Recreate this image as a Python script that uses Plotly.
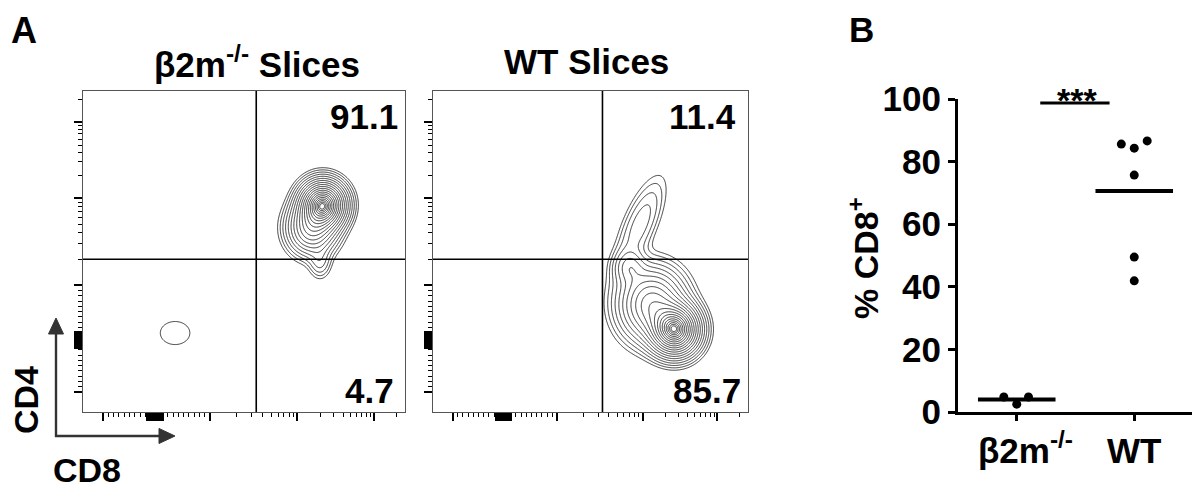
import numpy as np
import plotly.graph_objects as go

# the page body keeps its 8 px default margin, so the figure is laid out
# in target-window pixels shifted by OFF
OFF = 8
W, H = 1200 - OFF, 492 - OFF
FONT = "Arial, Liberation Sans, sans-serif"
LINE_GREY = "#262626"
ARROW_GREY = "#333333"

# ---- panel B: % CD8+ per slice ----
GROUPS = ["<b>\u2002β2m<sup>-/-</sup></b>", "<b>WT</b>"]
KO_VALUES = [4.8, 2.5, 4.8]
WT_VALUES = [85.6, 84.3, 86.6, 75.7, 49.5, 41.9]
KO_JITTER = [-0.11, 0.0, 0.10]
WT_JITTER = [-0.11, 0.0, 0.11, 0.0, 0.0, 0.0]
Y_TICKS = [0, 20, 40, 60, 80, 100]

# ---- panel A: quadrant frequencies ----
KO_QUADS = ["91.1", "4.7"]     # CD4+CD8+, CD8 single positive
WT_QUADS = ["11.4", "85.7"]

# populations (display units 0-1)
KO_CX = [0.745, 0.711, 0.736, 0.286]
KO_CY = [0.645, 0.573, 0.467, 0.246]
KO_SU = [0.037, 0.041, 0.020, 0.060]
KO_SV = [0.039, 0.045, 0.030, 0.047]
KO_ANG = [0, 0, 0, 0]
KO_W = [1.0, 0.35, 0.05, 0.016]

WT_CX = [0.768, 0.695, 0.625, 0.657]
WT_CY = [0.256, 0.334, 0.450, 0.584]
WT_SU = [0.041, 0.057, 0.029, 0.090]
WT_SV = [0.042, 0.0625, 0.031, 0.030]
WT_ANG = [0, 0, 0, 66.5]
WT_W = [1.0, 0.4, 0.1, 0.065]

GATE_X, GATE_Y = 0.538, 0.476
N_LEVELS, Q, OUTER, INNER = 20, 0.4, 4.5, 0.02


def px(x):
    return (x - OFF) / W


def py(y):
    return 1 - (y - OFF) / H


grid = np.linspace(0, 1, 401)
GX, GY = np.meshgrid(grid, grid)


def density(cx, cy, su, sv, ang, w):
    d = np.zeros_like(GX)
    for x0, y0, s1, s2, a, wi in zip(cx, cy, su, sv, ang, w):
        t = np.radians(a)
        dx, dy = GX - x0, GY - y0
        u = dx * np.cos(t) + dy * np.sin(t)
        v = -dx * np.sin(t) + dy * np.cos(t)
        d += wi * np.exp(-0.5 * ((u / s1) ** 2 + (v / s2) ** 2))
    rel = np.maximum(d / d.max(), 1e-30)
    return -(-np.log(rel)) ** Q


start = -(OUTER ** Q)
step = (OUTER ** Q - INNER ** Q) / (N_LEVELS - 1)

# biexponential-looking tick marks
major_ticks = [0.062, 0.395, 0.666, 0.903] + [0.200 + 0.004 * i for i in range(13)]
minor_ticks = ([0.062 + 0.0165 * i for i in range(1, 9)]
               + [0.395 - 0.0165 * i for i in range(1, 9)]
               + [0.395 + np.log10(k) * 0.271 for k in range(2, 10)]
               + [0.666 + np.log10(k) * 0.237 for k in range(2, 10)]
               + [0.974])

fig = go.Figure()

for n, comps in enumerate([
    (KO_CX, KO_CY, KO_SU, KO_SV, KO_ANG, KO_W),
    (WT_CX, WT_CY, WT_SU, WT_SV, WT_ANG, WT_W),
]):
    ax = "" if n == 0 else "2"
    fig.add_trace(go.Contour(
        x=grid, y=grid, z=density(*comps),
        autocontour=False,
        contours=dict(start=start, end=start + step * (N_LEVELS - 1), size=step,
                      coloring="lines"),
        line=dict(width=0.9, smoothing=1),
        colorscale=[[0, LINE_GREY], [1, LINE_GREY]],
        showscale=False, hoverinfo="skip",
        xaxis="x" + ax, yaxis="y" + ax,
    ))

for vals, jit, i in [(KO_VALUES, KO_JITTER, 0), (WT_VALUES, WT_JITTER, 1)]:
    fig.add_trace(go.Scatter(
        x=[i + j for j in jit], y=vals, mode="markers",
        marker=dict(size=9, color="black"),
        cliponaxis=False, showlegend=False,
        xaxis="x3", yaxis="y3",
    ))
    m = float(np.mean(vals))
    fig.add_trace(go.Scatter(
        x=[i - 0.33, i + 0.33], y=[m, m], mode="lines",
        line=dict(color="black", width=4),
        cliponaxis=False, showlegend=False,
        xaxis="x3", yaxis="y3",
    ))

flow_axis = dict(
    range=[0, 1], showgrid=False, zeroline=False, showticklabels=False,
    showline=True, mirror=True, linecolor="#555555", linewidth=1,
    ticks="outside", tickmode="array", tickvals=major_ticks,
    ticklen=8, tickwidth=2, tickcolor="black",
    minor=dict(tickmode="array", tickvals=minor_ticks, ticks="outside",
               ticklen=4, tickwidth=1, tickcolor="black"),
    fixedrange=True, automargin=False,
)
y_dom = [py(412), py(91)]

fig.update_layout(
    width=W, height=H, autosize=False,
    margin=dict(l=0, r=0, t=0, b=0, pad=0),
    paper_bgcolor="white", plot_bgcolor="white",
    showlegend=False,
    font=dict(family=FONT, color="black"),
    xaxis=dict(flow_axis, domain=[px(83), px(405)], anchor="y"),
    yaxis=dict(flow_axis, domain=y_dom, anchor="x"),
    xaxis2=dict(flow_axis, domain=[px(433), px(748)], anchor="y2"),
    yaxis2=dict(flow_axis, domain=y_dom, anchor="x2"),
    xaxis3=dict(
        domain=[px(958), px(1193)], range=[-0.5, 1.5], anchor="y3",
        tickmode="array", tickvals=[0, 1], ticktext=GROUPS,
        ticks="outside", ticklen=6, tickwidth=3, tickcolor="black",
        showline=True, linewidth=3, linecolor="black",
        showgrid=False, zeroline=False, automargin=False,
        tickfont=dict(family=FONT, size=35, color="black"),
    ),
    yaxis3=dict(
        domain=[py(412), py(99)], range=[0, 100], anchor="x3",
        tickmode="array", tickvals=Y_TICKS,
        ticks="outside", ticklen=7, tickwidth=3, tickcolor="black",
        showline=True, linewidth=3, linecolor="black",
        showgrid=False, zeroline=False, automargin=False,
        tickfont=dict(family=FONT, size=35, color="black", weight="bold"),
    ),
)

# quadrant gates
for ax in ["", "2"]:
    fig.add_shape(type="line", x0=GATE_X, x1=GATE_X, y0=0, y1=1,
                  xref="x" + ax, yref="y" + ax, line=dict(color="black", width=1.6))
    fig.add_shape(type="line", x0=0, x1=1, y0=GATE_Y, y1=GATE_Y,
                  xref="x" + ax, yref="y" + ax, line=dict(color="black", width=1.6))

# significance bar
fig.add_shape(type="line", x0=0.2, x1=0.79, y0=98.7, y1=98.7,
              xref="x3", yref="y3", line=dict(color="black", width=3))

# CD4 / CD8 orientation arrows (corner at 56, 436)
for x0, y0, x1, y1 in [(56, 437, 56, 330), (55, 436, 161, 436)]:
    fig.add_shape(type="line", x0=px(x0), y0=py(y0), x1=px(x1), y1=py(y1),
                  xref="paper", yref="paper", line=dict(color=ARROW_GREY, width=2.4))
for pts in [[(56, 318), (48.5, 334), (63.5, 334)], [(175, 436), (159, 428.5), (159, 443.5)]]:
    path = "M " + " L ".join(f"{px(a):.5f},{py(b):.5f}" for a, b in pts) + " Z"
    fig.add_shape(type="path", path=path, xref="paper", yref="paper",
                  fillcolor=ARROW_GREY, line=dict(color=ARROW_GREY, width=1))


def label(text, x, y, size, xanchor="center", yanchor="middle", **kw):
    return dict(text=text, x=px(x), y=py(y), xref="paper", yref="paper",
                xanchor=xanchor, yanchor=yanchor, showarrow=False,
                font=dict(family=FONT, size=size, color="black"), **kw)


fig.update_layout(annotations=[
    label("<b>A</b>", 24, 8, 36, yanchor="top"),
    label("<b>B</b>", 861, 8, 35, yanchor="top"),
    label("<b>β2m<sup>-/-</sup> Slices</b>", 257, 62, 35),
    label("<b>WT Slices</b>", 586, 62, 35),
    label("<b>" + KO_QUADS[0] + "</b>", 400, 116, 35, xanchor="right"),
    label("<b>" + KO_QUADS[1] + "</b>", 396, 390, 35, xanchor="right"),
    label("<b>" + WT_QUADS[0] + "</b>", 738, 116, 35, xanchor="right"),
    label("<b>" + WT_QUADS[1] + "</b>", 743, 390, 35, xanchor="right"),
    label("<b>CD4</b>", 26, 400, 34, textangle=-90),
    label("<b>CD8</b>", 87, 470, 34),
    label("<b>% CD8<sup>+</sup></b>", 864, 258, 34, textangle=-90),
    label("<b>***</b>", 1077, 100, 34),
])

fig.write_html("out.html")
